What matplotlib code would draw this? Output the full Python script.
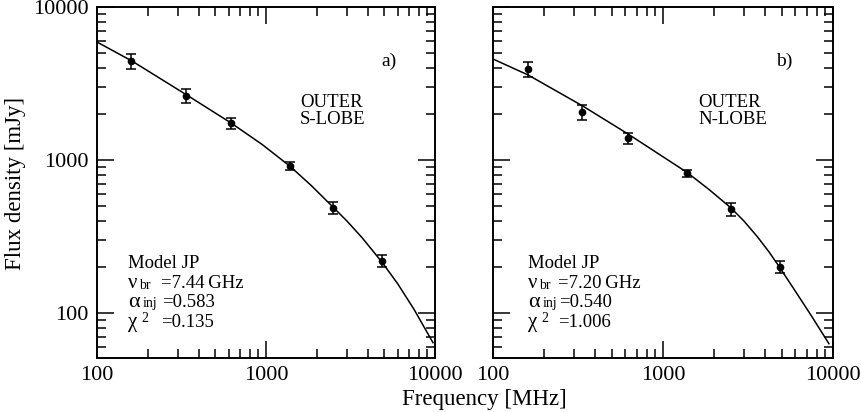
import matplotlib
matplotlib.use('Agg')
from matplotlib import pyplot as plt
from matplotlib.ticker import LogLocator, NullFormatter, FixedLocator, FixedFormatter

plt.rcParams['font.family'] = ['Liberation Serif', 'DejaVu Serif']

# observed frequencies [MHz]
freq = [160, 336, 620, 1385, 2500, 4860]

# outer S-lobe
s_flux = [4436, 2618, 1746, 914, 486, 219]
s_err = [490, 275, 145, 52, 44, 19]
s_fit_freq = [100, 161, 336, 621, 950, 1387, 1850, 2489, 3000, 3700, 4853, 6000, 7500, 9730]
s_fit_flux = [5902, 4436, 2680, 1746, 1262, 910, 682, 493, 401, 311, 215, 156, 106, 64]

# outer N-lobe
n_flux = [3935, 2061, 1392, 822, 479, 200]
n_err = [430, 225, 120, 42, 46, 18]
n_fit_freq = [100, 161, 338, 622, 1384, 1860, 2512, 3000, 3600, 4200, 4808, 6000, 7500, 9464]
n_fit_flux = [4571, 3594, 2250, 1480, 830, 643, 486, 398, 314, 251, 202, 139, 95, 63]

xticks = [100, 1000, 10000]
xtick_labels = ['100', '1000', '10000']
yticks = [100, 1000, 10000]
ytick_labels = ['100', '1000', '10000']

fig = plt.figure(figsize=(8.62, 4.12), dpi=100)
W, H = 862.0, 412.0


def panel(left_px, right_px, flux, err, fit_f, fit_s, tag, lobe, pars, txt_x, eq_x, ylabels):
    ax = fig.add_axes([left_px / W, (H - 358) / H, (right_px - left_px) / W, 351 / H])
    ax.set_xscale('log')
    ax.set_yscale('log')
    ax.set_xlim(100, 10000)
    ax.set_ylim(50.8, 10000)
    ax.plot(fit_f, fit_s, color='black', lw=1.1)
    ax.errorbar(freq, flux, yerr=err, fmt='o', color='black', ms=4.5,
                elinewidth=1.1, capsize=3.5, capthick=1.1)

    ax.xaxis.set_major_locator(FixedLocator(xticks))
    ax.xaxis.set_major_formatter(FixedFormatter(xtick_labels))
    ax.yaxis.set_major_locator(FixedLocator(yticks))
    ax.yaxis.set_major_formatter(FixedFormatter(ytick_labels))
    ax.xaxis.set_minor_locator(LogLocator(base=10, subs=range(2, 10)))
    ax.yaxis.set_minor_locator(LogLocator(base=10, subs=range(2, 10)))
    ax.xaxis.set_minor_formatter(NullFormatter())
    ax.yaxis.set_minor_formatter(NullFormatter())
    ax.tick_params(which='both', direction='in', top=True, right=True,
                   width=1.1, labelsize=16, pad=6)
    ax.tick_params(which='major', length=12)
    ax.tick_params(which='minor', length=6.5)
    if not ylabels:
        ax.tick_params(axis='y', labelleft=False)
    for sp in ax.spines.values():
        sp.set_linewidth(1.4)

    def ax_xy(px, py):
        return (px - left_px) / (right_px - left_px), (358 - py) / 351.0

    tr = ax.transAxes
    ax.text(*ax_xy(*tag[1]), tag[0], transform=tr, fontsize=14, ha='center', va='baseline')
    ax.text(*ax_xy(lobe[1], 107), 'OUTER', transform=tr, fontsize=13.5, va='baseline')
    ax.text(*ax_xy(lobe[1], 124), lobe[0], transform=tr, fontsize=13.5, va='baseline')

    # model parameters
    ax.text(*ax_xy(txt_x, 268), 'Model JP', transform=tr, fontsize=13.5, va='baseline')
    ax.text(*ax_xy(txt_x, 288), '\u03bd', transform=tr, fontsize=15, va='baseline')
    ax.text(*ax_xy(txt_x + 11, 289), 'br', transform=tr, fontsize=10, va='baseline')
    ax.text(*ax_xy(eq_x, 288), '=' + pars[0] + '\u2009GHz', transform=tr, fontsize=13.5,
            va='baseline')
    ax.text(*ax_xy(txt_x, 307), '\u03b1', transform=tr, fontsize=16, va='baseline')
    ax.text(*ax_xy(txt_x + 14.5, 307), 'inj', transform=tr, fontsize=10, va='baseline')
    ax.text(*ax_xy(eq_x + 1, 307), '=' + pars[1], transform=tr, fontsize=13.5, va='baseline')
    ax.text(*ax_xy(txt_x, 327), '\u03c7', transform=tr, fontsize=15, va='baseline')
    ax.text(*ax_xy(txt_x + 13, 322), '2', transform=tr, fontsize=10, va='baseline')
    ax.text(*ax_xy(eq_x, 327), '=' + pars[2], transform=tr, fontsize=13.5, va='baseline')
    return ax


panel(97, 435, s_flux, s_err, s_fit_freq, s_fit_flux, ('a)', (389, 66)),
      ('S-LOBE', 300), ('7.44', '0.583', '0.135'), 128, 161, True)
panel(493, 833, n_flux, n_err, n_fit_freq, n_fit_flux, ('b)', (784, 66)),
      ('N-LOBE', 698), ('7.20', '0.540', '1.006'), 528, 558, False)

fig.text(484 / W, (H - 400) / H, 'Frequency [MHz]', ha='center', va='center', fontsize=16.5)
fig.text(16 / W, (H - 183) / H, 'Flux density [mJy]', ha='center', va='center',
         rotation=90, fontsize=16.5)

fig.savefig('out.png', dpi=100)
